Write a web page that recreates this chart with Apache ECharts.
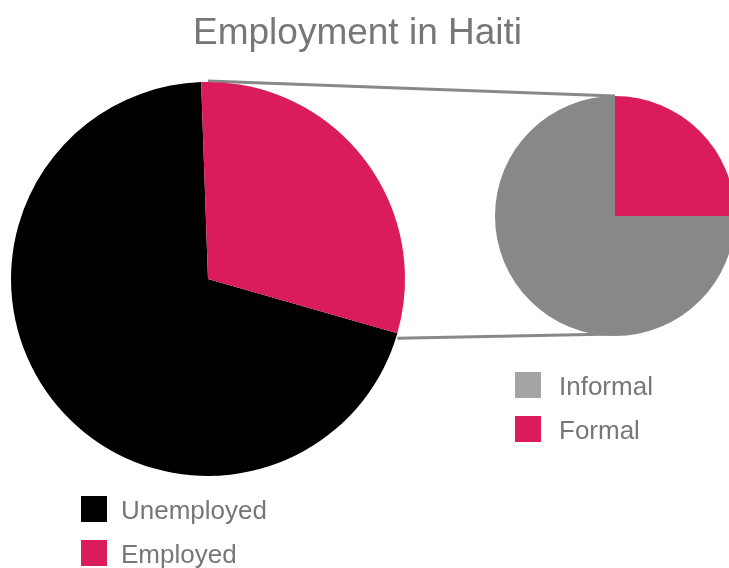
<!DOCTYPE html>
<html>
<head>
<meta charset="utf-8">
<script src="https://cdn.jsdelivr.net/npm/echarts@6/dist/echarts.min.js"></script>
<style>
  html, body { margin: 0; padding: 0; background: #fff; }
  #main { width: 729px; height: 568px; }
</style>
</head>
<body>
<div id="main"></div>
<script>
// data
var mainCategories = ["Unemployed", "Employed"];
var mainValues = [70, 30];
var detailCategories = ["Informal", "Formal"];
var detailValues = [75, 25];

var pink = "#da1c5c";
var gray = "#888888";
var textGray = "#777777";

// layout of the two pies
var bigC = [208, 279], bigR = 197;
var smallC = [615, 216], smallR = 120;
var bigStart = -16;

var myChart = echarts.init(document.getElementById("main"));

// end of the Employed slice on the big pie (= start of Unemployed), for the lower connector
var empEnd = [bigC[0] + bigR * Math.cos(bigStart * Math.PI / 180), bigC[1] - bigR * Math.sin(bigStart * Math.PI / 180)];

// legend text pushed a little lower than the box centre, like the original
function legendText(left) {
  return {
    fontFamily: "Liberation Sans", fontSize: 26, color: textGray,
    rich: { t: { fontFamily: "Liberation Sans", fontSize: 26, color: textGray, padding: [6, 0, 0, left] } }
  };
}

myChart.setOption({
  animation: false,
  title: {
    text: "Employment in Haiti",
    left: 193,
    top: 15,
    padding: 0,
    textStyle: { fontFamily: "Liberation Sans", fontSize: 37, fontWeight: "normal", color: textGray }
  },
  legend: [
    {
      orient: "vertical",
      left: 81, top: 496, height: 100,
      padding: 0,
      itemWidth: 26, itemHeight: 26, itemGap: 15,
      icon: "rect",
      data: mainCategories,
      formatter: "{t|{name}}",
      textStyle: legendText(9)
    },
    {
      orient: "vertical",
      left: 515, top: 372, height: 100,
      padding: 0,
      itemWidth: 26, itemHeight: 26, itemGap: 15,
      icon: "rect",
      data: [
        { name: detailCategories[0], itemStyle: { color: "#a5a5a5" } },
        { name: detailCategories[1] }
      ],
      formatter: "{t|{name}}",
      textStyle: legendText(13)
    }
  ],
  graphic: [
    {
      type: "line", z: -1,
      shape: { x1: bigC[0], y1: bigC[1] - bigR - 1, x2: smallC[0], y2: smallC[1] - smallR },
      style: { stroke: gray, lineWidth: 3 }
    },
    {
      type: "line", z: -1,
      shape: { x1: empEnd[0], y1: empEnd[1] + 5, x2: smallC[0], y2: smallC[1] + smallR - 2 },
      style: { stroke: gray, lineWidth: 3 }
    }
  ],
  series: [
    {
      type: "pie",
      center: bigC,
      radius: bigR,
      startAngle: bigStart,
      clockwise: true,
      label: { show: false },
      labelLine: { show: false },
      emphasis: { disabled: true },
      itemStyle: { borderWidth: 0 },
      data: mainCategories.map(function (n, i) {
        return { name: n, value: mainValues[i], itemStyle: { color: i == 0 ? "#000000" : pink } };
      })
    },
    {
      type: "pie",
      center: smallC,
      radius: smallR,
      startAngle: 0,
      clockwise: true,
      label: { show: false },
      labelLine: { show: false },
      emphasis: { disabled: true },
      itemStyle: { borderWidth: 0 },
      data: detailCategories.map(function (n, i) {
        return { name: n, value: detailValues[i], itemStyle: { color: i == 0 ? gray : pink } };
      })
    }
  ]
});
</script>
</body>
</html>
